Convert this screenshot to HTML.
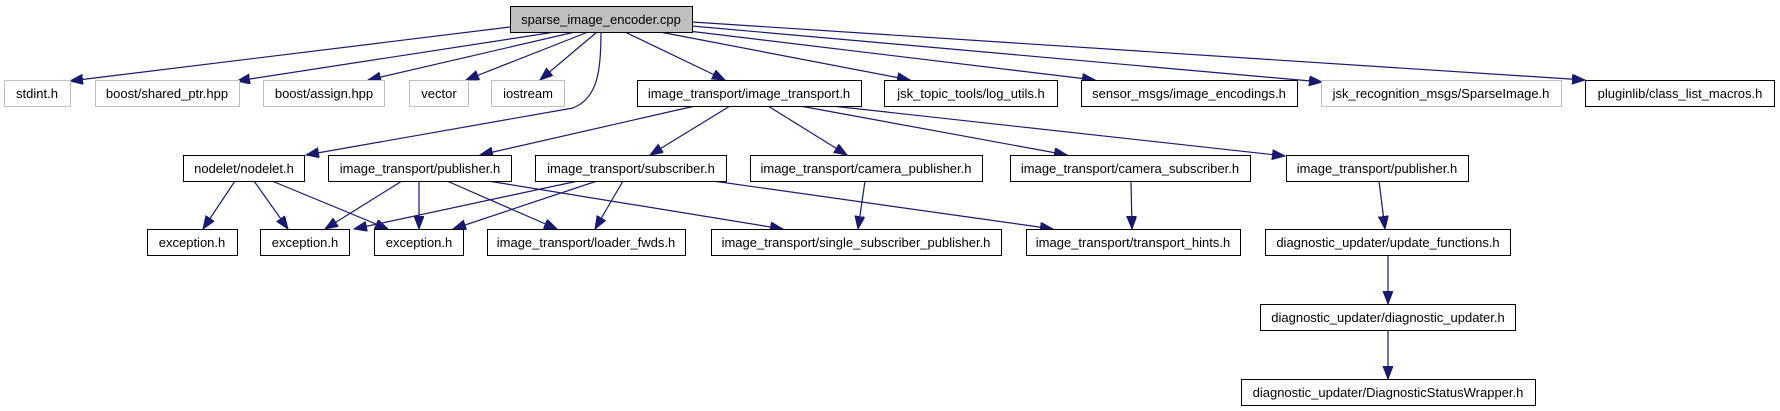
<!DOCTYPE html>
<html><head><meta charset="utf-8"><style>
html,body{margin:0;padding:0;background:#fff;}
svg{display:block;}
text{font-family:"Liberation Sans",Arial,sans-serif;font-size:13px;fill:#000;}
.e{stroke:#191970;stroke-width:1.2;fill:none;marker-end:url(#a);}
.n{fill:#fff;stroke:#000;stroke-width:1;}
.g{fill:#fff;stroke:#bfbfbf;stroke-width:1;}
</style></head><body>
<svg width="1780" height="411" viewBox="0 0 1780 411" xmlns="http://www.w3.org/2000/svg">
<defs><marker id="a" markerUnits="userSpaceOnUse" markerWidth="14" markerHeight="12" refX="13" refY="5" orient="auto"><path d="M0,0 L13,5 L0,10 z" fill="#191970" stroke="#191970"/></marker></defs>
<g>
<path class="e" d="M510,27 L70,81"/>
<path class="e" d="M555,32 L237,81"/>
<path class="e" d="M575,32 L368,80"/>
<path class="e" d="M588,32 L466,80"/>
<path class="e" d="M597,32 L540,80"/>
<path class="e" d="M601,32 C601,70 598,98 573,108 L306,155"/>
<path class="e" d="M625,32 L725,80"/>
<path class="e" d="M660,32 L910,80"/>
<path class="e" d="M680,30 L1095,80"/>
<path class="e" d="M692,26 L1322,82"/>
<path class="e" d="M692,22 L1585,80"/>
<path class="e" d="M695,106 L480,155"/>
<path class="e" d="M730,106 L650,155"/>
<path class="e" d="M768,106 L847,155"/>
<path class="e" d="M800,106 L1067,155"/>
<path class="e" d="M832,106 L1285,156"/>
<path class="e" d="M235,181 L203,229"/>
<path class="e" d="M254,181 L288,229"/>
<path class="e" d="M272,181 L388,229"/>
<path class="e" d="M402,181 L325,229"/>
<path class="e" d="M419,181 L419,229"/>
<path class="e" d="M447,181 L557,229"/>
<path class="e" d="M488,181 L783,229"/>
<path class="e" d="M578,181 L354,229"/>
<path class="e" d="M597,181 L453,229"/>
<path class="e" d="M623,181 L595,229"/>
<path class="e" d="M713,181 L1053,229"/>
<path class="e" d="M865,181 L858,229"/>
<path class="e" d="M1131,181 L1132,229"/>
<path class="e" d="M1379,181 L1385,229"/>
<path class="e" d="M1388,255 L1388,304"/>
<path class="e" d="M1388,330 L1388,379"/>
</g>
<g>
<rect x="510.5" y="6.5" width="182" height="26" fill="#bfbfbf" stroke="#000"/><text x="601" y="24" text-anchor="middle">sparse_image_encoder.cpp</text>

<rect class="g" x="4.5" y="80.5" width="66" height="26"/><text x="37" y="98" text-anchor="middle">stdint.h</text>
<rect class="g" x="95.5" y="80.5" width="144" height="26"/><text x="167" y="98" text-anchor="middle">boost/shared_ptr.hpp</text>
<rect class="g" x="263.5" y="80.5" width="121" height="26"/><text x="324" y="98" text-anchor="middle">boost/assign.hpp</text>
<rect class="g" x="409.5" y="80.5" width="59" height="26"/><text x="439" y="98" text-anchor="middle">vector</text>
<rect class="g" x="491.5" y="80.5" width="73" height="26"/><text x="528" y="98" text-anchor="middle">iostream</text>
<rect class="n" x="637.5" y="80.5" width="224" height="26"/><text x="749" y="98" text-anchor="middle">image_transport/image_transport.h</text>
<rect class="n" x="884.5" y="80.5" width="173" height="26"/><text x="971" y="98" text-anchor="middle">jsk_topic_tools/log_utils.h</text>
<rect class="n" x="1081.5" y="80.5" width="216" height="26"/><text x="1189" y="98" text-anchor="middle">sensor_msgs/image_encodings.h</text>
<rect class="g" x="1321.5" y="80.5" width="240" height="26"/><text x="1441" y="98" text-anchor="middle">jsk_recognition_msgs/SparseImage.h</text>
<rect class="n" x="1585.5" y="80.5" width="189" height="26"/><text x="1680" y="98" text-anchor="middle">pluginlib/class_list_macros.h</text>

<rect class="n" x="183.5" y="155.5" width="121" height="26"/><text x="244" y="173" text-anchor="middle">nodelet/nodelet.h</text>
<rect class="n" x="328.5" y="155.5" width="183" height="26"/><text x="420" y="173" text-anchor="middle">image_transport/publisher.h</text>
<rect class="n" x="535.5" y="155.5" width="191" height="26"/><text x="631" y="173" text-anchor="middle">image_transport/subscriber.h</text>
<rect class="n" x="750.5" y="155.5" width="232" height="26"/><text x="866" y="173" text-anchor="middle">image_transport/camera_publisher.h</text>
<rect class="n" x="1010.5" y="155.5" width="240" height="26"/><text x="1130" y="173" text-anchor="middle">image_transport/camera_subscriber.h</text>
<rect class="n" x="1286.5" y="155.5" width="182" height="26"/><text x="1377" y="173" text-anchor="middle">image_transport/publisher.h</text>

<rect class="n" x="147.5" y="229.5" width="90" height="26"/><text x="192" y="247" text-anchor="middle">exception.h</text>
<rect class="n" x="260.5" y="229.5" width="89" height="26"/><text x="305" y="247" text-anchor="middle">exception.h</text>
<rect class="n" x="374.5" y="229.5" width="89" height="26"/><text x="419" y="247" text-anchor="middle">exception.h</text>
<rect class="n" x="487.5" y="229.5" width="198" height="26"/><text x="586" y="247" text-anchor="middle">image_transport/loader_fwds.h</text>
<rect class="n" x="711.5" y="229.5" width="290" height="26"/><text x="856" y="247" text-anchor="middle">image_transport/single_subscriber_publisher.h</text>
<rect class="n" x="1026.5" y="229.5" width="214" height="26"/><text x="1133" y="247" text-anchor="middle">image_transport/transport_hints.h</text>
<rect class="n" x="1265.5" y="229.5" width="245" height="26"/><text x="1388" y="247" text-anchor="middle">diagnostic_updater/update_functions.h</text>

<rect class="n" x="1260.5" y="304.5" width="255" height="26"/><text x="1388" y="322" text-anchor="middle">diagnostic_updater/diagnostic_updater.h</text>
<rect class="n" x="1241.5" y="379.5" width="294" height="26"/><text x="1388" y="397" text-anchor="middle">diagnostic_updater/DiagnosticStatusWrapper.h</text>
</g>
</svg>
</body></html>
